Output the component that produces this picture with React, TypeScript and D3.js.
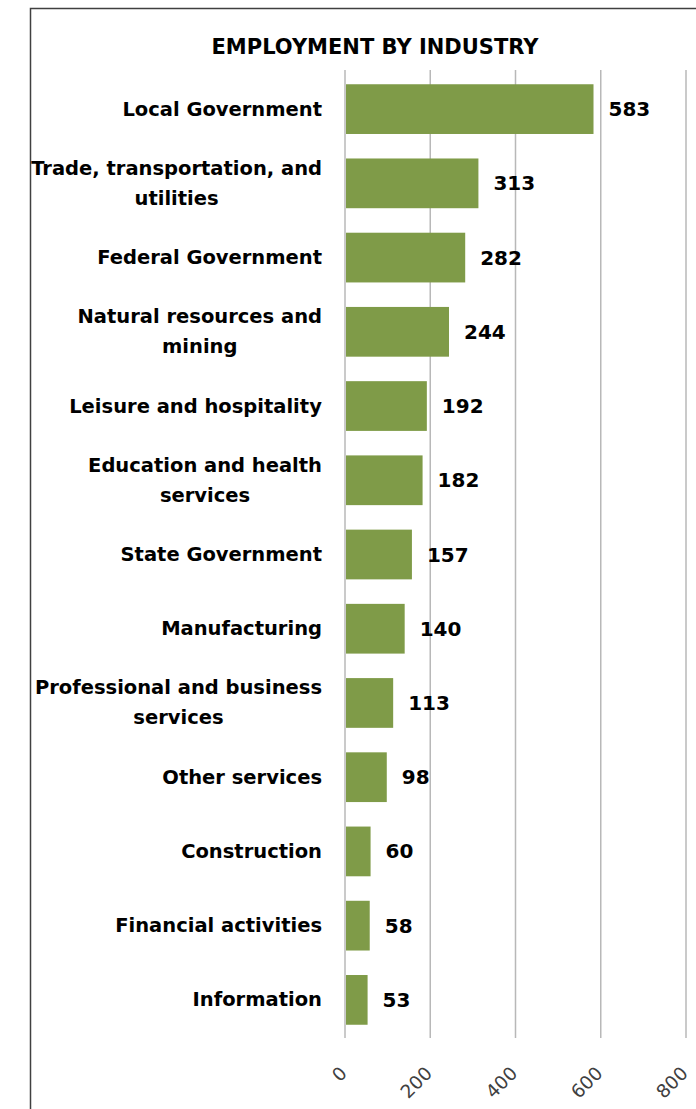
import React, { useEffect, useRef } from "react";
import * as d3 from "d3";

const categories = [
  "Local Government",
  "Trade, transportation, and\nutilities",
  "Federal Government",
  "Natural resources and\nmining",
  "Leisure and hospitality",
  "Education and health\nservices",
  "State Government",
  "Manufacturing",
  "Professional and business\nservices",
  "Other services",
  "Construction",
  "Financial activities",
  "Information",
];
const values = [583, 313, 282, 244, 192, 182, 157, 140, 113, 98, 60, 58, 53];
const ticks = [0, 200, 400, 600, 800];
const title = "EMPLOYMENT BY INDUSTRY";

const W = 696;
const H = 1109;
const FONT = "'DejaVu Sans', sans-serif";

export default function App() {
  const ref = useRef<SVGSVGElement>(null);
  useEffect(() => {
    const svg = d3.select(ref.current);
    svg.selectAll("*").remove();

    const x = d3.scaleLinear().domain([0, 800]).range([345, 686]);
    const y = d3
      .scaleBand<number>()
      .domain(d3.range(categories.length))
      .range([72, 1037])
      .paddingInner(0.33)
      .paddingOuter(0.165);

    svg.append("rect").attr("width", W).attr("height", H).attr("fill", "#fff");
    svg
      .append("rect")
      .attr("x", 30.5)
      .attr("y", 8.5)
      .attr("width", 800)
      .attr("height", 1300)
      .attr("fill", "none")
      .attr("stroke", "#404040")
      .attr("stroke-width", 1.5);

    svg
      .append("text")
      .attr("x", 375)
      .attr("y", 47)
      .attr("text-anchor", "middle")
      .attr("dominant-baseline", "central")
      .attr("font-family", FONT)
      .attr("font-weight", "bold")
      .attr("font-size", 21)
      .attr("fill", "#000")
      .text(title);

    // gridlines
    svg
      .append("g")
      .selectAll("line")
      .data(ticks)
      .join("line")
      .attr("x1", (d) => x(d))
      .attr("x2", (d) => x(d))
      .attr("y1", 70)
      .attr("y2", 1038)
      .attr("stroke", "#b8b8b8")
      .attr("stroke-width", 1.5);

    // bars
    svg
      .append("g")
      .selectAll("rect")
      .data(values)
      .join("rect")
      .attr("x", x(0) + 1)
      .attr("y", (_, i) => y(i)!)
      .attr("width", (d) => x(d) - x(0) - 1)
      .attr("height", y.bandwidth())
      .attr("fill", "#7F9B48");

    // value labels
    svg
      .append("g")
      .selectAll("text")
      .data(values)
      .join("text")
      .attr("x", (d) => x(d) + 15)
      .attr("y", (_, i) => y(i)! + y.bandwidth() / 2)
      .attr("dominant-baseline", "central")
      .attr("font-family", FONT)
      .attr("font-weight", "bold")
      .attr("font-size", 20)
      .attr("fill", "#000")
      .text((d) => String(d));

    // category labels
    const lg = svg.append("g");
    categories.forEach((c, i) => {
      const lines = c.split("\n");
      const cy = y(i)! + y.bandwidth() / 2;
      const lh = 30;
      const t = lg
        .append("text")
        .attr("text-anchor", "middle")
        .attr("font-family", FONT)
        .attr("font-weight", "bold")
        .attr("font-size", 19.5)
        .attr("fill", "#000");
      lines.forEach((ln, k) => {
        t.append("tspan")
          .attr("x", 0)
          .attr("y", cy + (k - (lines.length - 1) / 2) * lh)
          .attr("dominant-baseline", "central")
          .text(ln);
      });
      const w = (t.node() as SVGTextElement).getBBox().width;
      t.selectAll("tspan").attr("x", 322 - w / 2);
    });

    // tick labels
    svg
      .append("g")
      .selectAll("text")
      .data(ticks)
      .join("text")
      .attr("transform", (d) => `translate(${x(d) + 3},${1074.5}) rotate(-45)`)
      .attr("text-anchor", "end")
      .attr("font-family", FONT)
      .attr("font-size", 18.5)
      .attr("fill", "#404040")
      .text((d) => String(d));
  }, []);

  return (
    <svg
      ref={ref}
      width={W}
      height={H}
      style={{ position: "absolute", left: 0, top: 0, display: "block" }}
    />
  );
}
